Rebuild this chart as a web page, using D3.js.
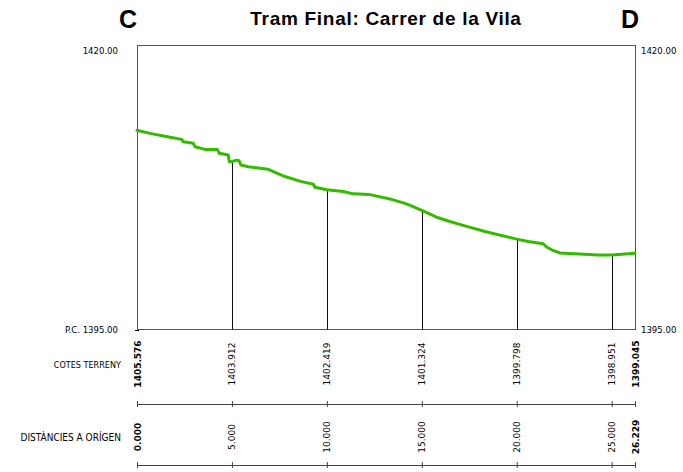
<!DOCTYPE html>
<html>
<head>
<meta charset="utf-8">
<script src="https://cdn.jsdelivr.net/npm/d3@7"></script>
<style>
  html, body { margin: 0; padding: 0; background: #fff; }
  svg { display: block; }
  text { font-family: "DejaVu Sans Condensed", "DejaVu Sans", sans-serif; fill: #000; }
</style>
</head>
<body>
<svg id="chart" width="683" height="472"></svg>
<script>
// Longitudinal profile: distances from origin (m) and terrain elevations (m)
const stationDist = [0, 5, 10, 15, 20, 25, 26.229];
const stationElev = [1405.576, 1403.912, 1402.419, 1401.324, 1399.798, 1398.951, 1399.045];
const stationDistLabels = ["0.000", "5.000", "10.000", "15.000", "20.000", "25.000", "26.229"];
const stationElevLabels = ["1405.576", "1403.912", "1402.419", "1401.324", "1399.798", "1398.951", "1399.045"];

// Surveyed terrain line between stations
const profileDist = [0, 0.685, 1.738, 2.354, 2.438, 2.965, 3.054, 3.581, 4.229, 4.334, 4.808, 4.860, 5,
  5.25, 5.371, 5.477, 5.861, 6.914, 7.178, 7.704, 8.494, 8.673, 9.284, 9.373, 10,
  10.864, 11.39, 12.27, 13.32, 14.20, 15,
  15.78, 16.48, 17.27, 18.33, 20,
  20.61, 21.40, 21.57, 21.84, 22.28, 23.06, 24.29, 25, 26.229];
const profileElev = [1405.576, 1405.41, 1405.20, 1405.09, 1404.96, 1404.88, 1404.70, 1404.56, 1404.56, 1404.35, 1404.26, 1403.90, 1403.912,
  1403.99, 1403.96, 1403.73, 1403.64, 1403.50, 1403.38, 1403.15, 1402.90, 1402.85, 1402.71, 1402.55, 1402.419,
  1402.32, 1402.20, 1402.16, 1401.93, 1401.67, 1401.324,
  1400.96, 1400.73, 1400.50, 1400.20, 1399.798,
  1399.67, 1399.55, 1399.38, 1399.23, 1399.06, 1399.02, 1398.95, 1398.951, 1399.045];

const leftFrameLabels = ["P.C. 1395.00", "1420.00"];
const rightFrameLabels = ["1395.00", "1420.00"];
const rowTitles = ["COTES TERRENY", "DISTÀNCIES A ORÍGEN"];
const title = "Tram Final: Carrer de la Vila";
const startMark = "C", endMark = "D";

const svg = d3.select("#chart");

const x = d3.scaleLinear().domain([0, 26.229]).range([137, 635]);
const y = d3.scaleLinear().domain([1395, 1410.1]).range([329.5, 45]);

const fLeft = x(0), fRight = x(26.229), fTop = y.range()[1], fBottom = y(1395);

// Title and section marks
svg.append("text").attr("x", (fLeft + fRight) / 2).attr("y", 25)
  .attr("text-anchor", "middle").style("font-family", "'Liberation Sans', Arial, sans-serif")
  .style("font-weight", "bold").style("font-size", "19px").style("letter-spacing", "0.7px")
  .text(title);
svg.append("text").attr("x", 128).attr("y", 28).attr("text-anchor", "middle")
  .style("font-family", "'Liberation Sans', Arial, sans-serif")
  .style("font-weight", "bold").style("font-size", "25px").text(startMark);
svg.append("text").attr("x", 630).attr("y", 28).attr("text-anchor", "middle")
  .style("font-family", "'Liberation Sans', Arial, sans-serif")
  .style("font-weight", "bold").style("font-size", "25px").text(endMark);

// Frame
svg.append("rect").attr("x", fLeft).attr("y", fTop)
  .attr("width", fRight - fLeft).attr("height", fBottom - fTop)
  .attr("fill", "none").attr("stroke", "#555").attr("stroke-width", 1)
  .attr("shape-rendering", "crispEdges");

// Frame labels
svg.append("text").attr("x", 118).attr("y", fBottom + 3).attr("text-anchor", "end")
  .style("font-size", "9.5px").text(leftFrameLabels[0]);
svg.append("text").attr("x", 118).attr("y", fTop + 9).attr("text-anchor", "end")
  .style("font-size", "9.5px").text(leftFrameLabels[1]);
svg.append("text").attr("x", 641).attr("y", fBottom + 3).attr("text-anchor", "start")
  .style("font-size", "9.5px").text(rightFrameLabels[0]);
svg.append("text").attr("x", 641).attr("y", fTop + 9).attr("text-anchor", "start")
  .style("font-size", "9.5px").text(rightFrameLabels[1]);
svg.append("line").attr("x1", fLeft - 2).attr("x2", fLeft + 2).attr("y1", fBottom + 1).attr("y2", fBottom + 1)
  .attr("stroke", "#000");

// Drop lines at intermediate stations
const inner = stationDist.map((d, i) => ({ d, e: stationElev[i] })).slice(1, -1);
svg.append("g").selectAll("line").data(inner).join("line")
  .attr("x1", d => Math.round(x(d.d)) + 0.5).attr("x2", d => Math.round(x(d.d)) + 0.5)
  .attr("y1", d => y(d.e)).attr("y2", fBottom)
  .attr("stroke", "#111").attr("stroke-width", 1);

// Terrain line
const pts = profileDist.map((d, i) => [d, profileElev[i]]);
svg.append("path").datum(pts)
  .attr("d", d3.line().x(d => x(d[0])).y(d => y(d[1])))
  .attr("fill", "none").attr("stroke", "#33bb00").attr("stroke-width", 3)
  .attr("stroke-linejoin", "round").attr("stroke-linecap", "round");

// Guitar rows below the profile
const rows = [
  { title: rowTitles[0], labels: stationElevLabels, labelY: 364, axisY: 404, size: "9px" },
  { title: rowTitles[1], labels: stationDistLabels, labelY: 437, axisY: 465, size: "10px" }
];
const last = stationDist.length - 1;
rows.forEach(r => {
  svg.append("text").attr("x", 121).attr("y", r.labelY + 4).attr("text-anchor", "end")
    .style("font-size", r.size).text(r.title);
  svg.append("g").selectAll("text").data(stationDist).join("text")
    .attr("transform", d => `translate(${x(d) + 3.5},${r.labelY}) rotate(-90)`)
    .attr("text-anchor", "middle")
    .style("font-family", "'DejaVu Sans', Verdana, sans-serif")
    .style("font-size", "9px")
    .style("font-weight", (d, i) => (i === 0 || i === last) ? "bold" : "normal")
    .text((d, i) => r.labels[i]);
  const axis = d3.axisBottom(x).tickValues(stationDist).tickSize(3).tickFormat("");
  const g = svg.append("g").attr("transform", `translate(0,${r.axisY})`).call(axis);
  g.select(".domain").attr("stroke", "#444").attr("d", `M${fLeft},0.5H${fRight}`);
  g.selectAll(".tick line").attr("y1", -3).attr("y2", 3).attr("stroke", "#444");
});
</script>
</body>
</html>
